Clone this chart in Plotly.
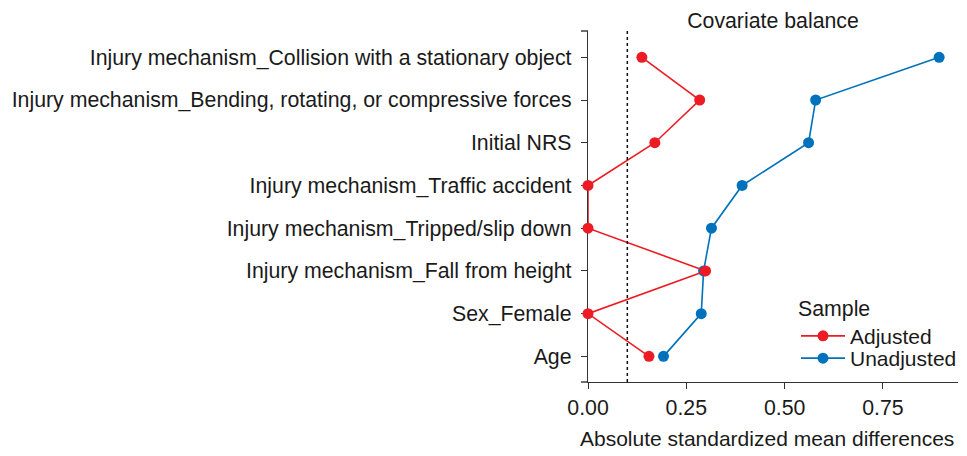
import plotly.graph_objects as go

categories = ["Age", "Sex_Female", "Injury mechanism_Fall from height",
              "Injury mechanism_Tripped/slip down", "Injury mechanism_Traffic accident",
              "Initial NRS", "Injury mechanism_Bending, rotating, or compressive forces",
              "Injury mechanism_Collision with a stationary object"]
adjusted = [0.155, 0.0, 0.299, 0.0, 0.0, 0.170, 0.284, 0.137]
unadjusted = [0.192, 0.288, 0.294, 0.314, 0.392, 0.561, 0.579, 0.893]
x_ticks = [0.0, 0.25, 0.5, 0.75]
x_tick_labels = ["0.00", "0.25", "0.50", "0.75"]
threshold = 0.1
x_title = "Absolute standardized mean differences"

RED = "#ED1C24"
BLUE = "#0072BC"
FONT = "Liberation Sans, Arial, sans-serif"
TXT = "#1a1a1a"
AX = "#333333"
FS = 21.3

# the page body has an 8px margin, so the figure is laid out offset by 8px
W, H = 959, 440
L, R, T, B = 580, 9, 23, 66
PW, PH = W - L - R, H - T - B

fig = go.Figure()
fig.add_trace(go.Scatter(x=unadjusted, y=categories, mode="lines+markers", name="Unadjusted",
                         line=dict(color=BLUE, width=1.6), marker=dict(color=BLUE, size=11),
                         cliponaxis=False, legend="legend2"))
fig.add_trace(go.Scatter(x=adjusted, y=categories, mode="lines+markers", name="Adjusted",
                         line=dict(color=RED, width=1.6), marker=dict(color=RED, size=11),
                         cliponaxis=False, legend="legend"))

fig.add_shape(type="line", xref="x", yref="paper", x0=threshold, x1=threshold, y0=0, y1=1,
              line=dict(color="#111111", width=1.5, dash="dot"))
# small stubs at the axis corners
fig.add_shape(type="line", xref="paper", yref="paper", x0=-7 / PW, x1=0, y0=1, y1=1,
              line=dict(color=AX, width=1.4))
fig.add_shape(type="line", xref="paper", yref="paper", x0=-7 / PW, x1=0, y0=0, y1=0,
              line=dict(color=AX, width=1.4))

def py(ref_y):
    # reference pixel y -> paper y
    return (H - B - (ref_y - 8)) / PH

def px(ref_x):
    return (ref_x - 8 - L) / PW

# x-axis title, placed as in the reference (slightly left of the panel centre)
fig.add_annotation(text=x_title, xref="paper", yref="paper", x=px(767), y=py(438),
                   xanchor="center", yanchor="middle", showarrow=False,
                   font=dict(size=21, color=TXT))

fig.update_layout(
    width=W, height=H,
    margin=dict(l=L, r=R, t=T, b=B, autoexpand=False),
    paper_bgcolor="white", plot_bgcolor="white",
    showlegend=True,
    font=dict(family=FONT, size=FS, color=TXT),
    title=dict(text="Covariate balance", x=0.5, xref="paper", xanchor="center",
               y=1 - 12.5 / H, yref="container", yanchor="middle",
               font=dict(size=FS, color=TXT)),
    xaxis=dict(range=[0, 0.941], tickvals=x_ticks, ticktext=x_tick_labels,
               showline=True, linecolor=AX, linewidth=1.4, ticks="outside", ticklen=6,
               tickwidth=1.4, tickcolor=AX, showgrid=False, zeroline=False,
               automargin=False,
               tickfont=dict(size=FS, color=TXT), layer="below traces"),
    yaxis=dict(type="category", categoryorder="array", categoryarray=categories,
               range=[-0.6, 7.615], showline=True, linecolor=AX, linewidth=1.4,
               ticks="outside", ticklen=6, tickwidth=1.4, tickcolor=AX,
               showgrid=False, zeroline=False, tickfont=dict(size=FS, color=TXT),
               automargin=False, ticklabelstandoff=5, layer="below traces"),
    legend=dict(x=px(796), y=py(288), xanchor="left", yanchor="top",
                title=dict(text="Sample", font=dict(size=FS, color=TXT)),
                bgcolor="rgba(0,0,0,0)", font=dict(size=21, color=TXT), itemwidth=44),
    legend2=dict(x=px(796), y=py(338), xanchor="left", yanchor="top",
                 bgcolor="rgba(0,0,0,0)", font=dict(size=21, color=TXT), itemwidth=44),
)

fig.write_html("out.html")
